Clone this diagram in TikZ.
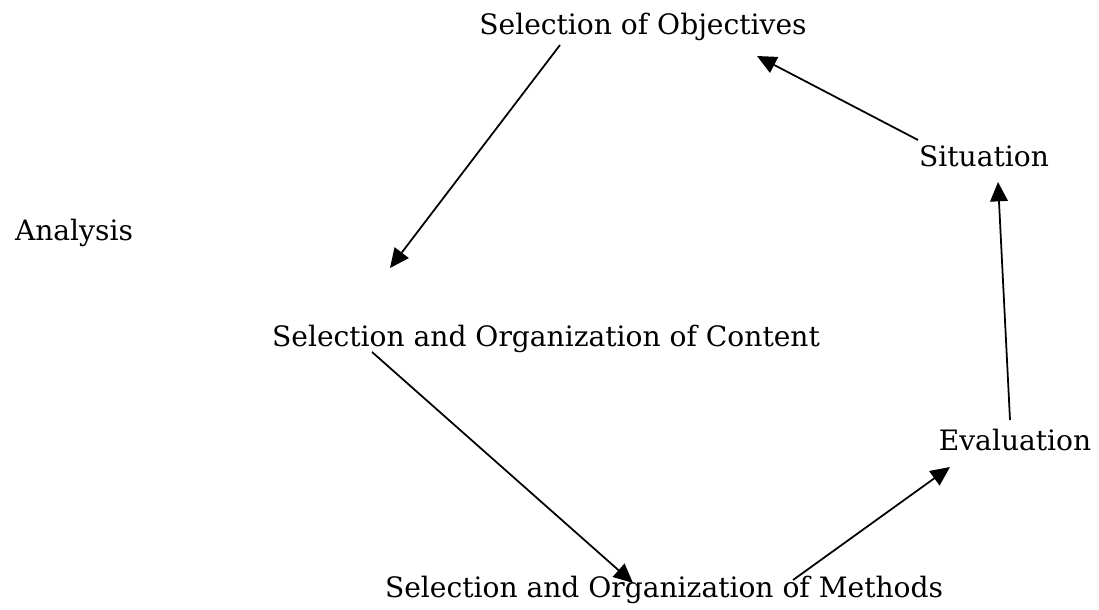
\documentclass[tikz,border=0pt]{standalone}
\usepackage{fontspec}
\setmainfont{DejaVu Serif}
\usetikzlibrary{arrows.meta, calc}

\begin{document}
\begin{tikzpicture}[
    font=\fontsize{16}{19}\selectfont,
    stage/.style={inner sep=0pt, anchor=center},
    arr/.style={-{Triangle[length=11pt, width=10pt]}, line width=1pt}
]
\useasboundingbox (0,0) rectangle (21.98,-12.18);

% stages of the cycle
\node[stage] (obj) at (12.86,-0.54) {Selection of Objectives};
\node[stage] (sit) at (19.68,-3.12) {Situation};
\node[stage] (ana) at (1.48,-4.66) {Analysis};
\node[stage] (con) at (10.92,-6.78) {Selection and Organization of Content};
\node[stage] (eva) at (20.30,-8.80) {Evaluation};
\node[stage] (met) at (13.28,-11.80) {Selection and Organization of Methods};

% cycle arrows
\draw[arr] ($(obj.center)+(-1.66,-0.36)$) -- ($(con.center)+(-3.12,1.42)$);
\draw[arr] ($(con.center)+(-3.48,-0.26)$) -- ($(met.center)+(-0.62,0.14)$);
\draw[arr] ($(met.center)+(2.58,0.20)$) -- ($(eva.center)+(-1.30,-0.54)$);
\draw[arr] ($(eva.center)+(-0.10,0.40)$) -- ($(sit.center)+(0.28,-0.52)$);
\draw[arr] ($(sit.center)+(-1.32,0.32)$) -- ($(obj.center)+(2.28,-0.58)$);

\end{tikzpicture}
\end{document}
